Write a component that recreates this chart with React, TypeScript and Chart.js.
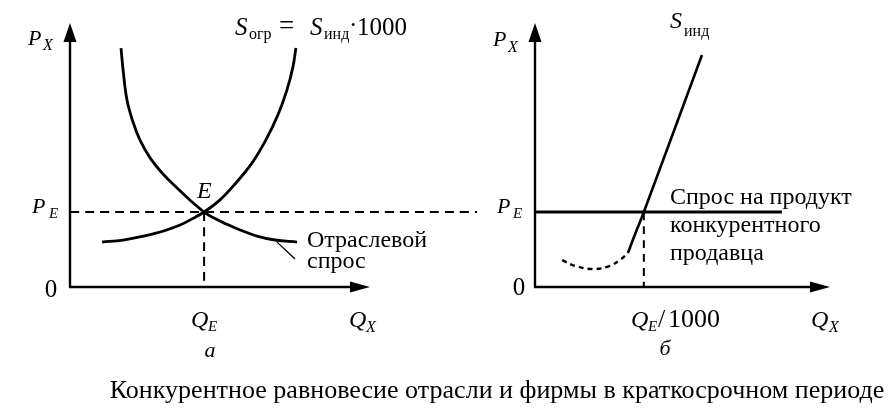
import React, { useEffect, useRef } from "react";
import { Chart, registerables } from "chart.js";

Chart.register(...registerables);

const FONT = "'Liberation Serif', 'Times New Roman', serif";

// ---------- Panel а: industry (values in axis units) ----------
const industryDemandQ = [1.7, 1.77, 1.9, 2.1, 2.33, 2.67, 3.1, 3.57, 4.03, 4.47, 4.8, 5.2, 5.67, 6.23, 6.83, 7.57];
const industryDemandP = [9.05, 8.22, 7.08, 6.25, 5.57, 4.89, 4.28, 3.75, 3.26, 2.84, 2.61, 2.39, 2.16, 1.93, 1.78, 1.7];
const industrySupplyQ = [1.07, 1.77, 2.9, 3.67, 4.07, 4.47, 5.0, 5.53, 6.07, 6.53, 6.93, 7.23, 7.43, 7.53];
const industrySupplyP = [1.7, 1.78, 2.05, 2.35, 2.58, 2.84, 3.3, 3.94, 4.7, 5.57, 6.52, 7.46, 8.33, 9.05];
const equilibriumQ = 4.47;
const equilibriumP = 2.84;
const priceLineEndQ = [13.57];
const leaderQ = [6.9, 7.5];
const leaderP = [1.7, 1.06];

// ---------- Panel б: firm ----------
const firmSupplySolidQ = [3.15, 3.42, 3.69, 5.66];
const firmSupplySolidP = [1.29, 2.08, 2.84, 8.79];
const firmSupplyDashedQ = [0.92, 1.36, 1.97, 2.54, 2.92, 3.15];
const firmSupplyDashedP = [1.02, 0.8, 0.68, 0.8, 1.06, 1.29];
const firmDemandQ = [0, 8.37];
const firmQ = 3.69;

const AXIS_END = 10;

const zip = (xs: number[], ys: number[]) => xs.map((x, i) => ({ x, y: ys[i] }));

type Seg = { t: string; x: number; y: number; size: number; italic?: boolean; align?: CanvasTextAlign };

function drawSegs(ctx: CanvasRenderingContext2D, segs: Seg[]) {
  for (const s of segs) {
    ctx.font = `${s.italic ? "italic " : ""}${s.size}px ${FONT}`;
    ctx.textAlign = s.align ?? "left";
    ctx.textBaseline = "alphabetic";
    ctx.fillStyle = "#000";
    ctx.fillText(s.t, s.x, s.y);
  }
}

function makeAxesPlugin(id: string, labels: Seg[], extra?: (ctx: CanvasRenderingContext2D) => void) {
  return {
    id,
    afterDatasetsDraw(chart: any) {
      const { ctx } = chart;
      const xs = chart.scales.x;
      const ys = chart.scales.y;
      const x0 = xs.getPixelForValue(0);
      const y0 = ys.getPixelForValue(0);
      const xe = xs.getPixelForValue(AXIS_END);
      const ye = ys.getPixelForValue(AXIS_END);
      ctx.save();
      ctx.strokeStyle = "#000";
      ctx.lineWidth = 2.4;
      ctx.beginPath();
      ctx.moveTo(x0 - 1, y0);
      ctx.lineTo(xe - 12, y0);
      ctx.moveTo(x0, y0);
      ctx.lineTo(x0, ye + 12);
      ctx.stroke();
      ctx.fillStyle = "#000";
      ctx.beginPath();
      ctx.moveTo(xe, y0);
      ctx.lineTo(xe - 20, y0 - 5.5);
      ctx.lineTo(xe - 20, y0 + 5.5);
      ctx.closePath();
      ctx.fill();
      ctx.beginPath();
      ctx.moveTo(x0, ye);
      ctx.lineTo(x0 - 6.5, ye + 19);
      ctx.lineTo(x0 + 6.5, ye + 19);
      ctx.closePath();
      ctx.fill();
      drawSegs(ctx, labels);
      if (extra) extra(ctx);
      ctx.restore();
    },
  };
}

const baseLine = {
  borderColor: "#000",
  pointRadius: 0,
  fill: false,
  clip: false as any,
  tension: 0.4,
};

const leftLabels: Seg[] = [
  { t: "P", x: 28, y: 45, size: 22, italic: true },
  { t: "X", x: 43, y: 50, size: 16, italic: true },
  { t: "S", x: 235, y: 35, size: 25, italic: true },
  { t: "огр", x: 249, y: 39, size: 16 },
  { t: "=", x: 279, y: 34, size: 27 },
  { t: "S", x: 310, y: 35, size: 25, italic: true },
  { t: "инд", x: 324, y: 39, size: 16 },
  { t: "·", x: 349, y: 33, size: 25 },
  { t: "1000", x: 357, y: 35, size: 25 },
  { t: "E", x: 197, y: 198, size: 24, italic: true },
  { t: "P", x: 32, y: 213, size: 22, italic: true },
  { t: "E", x: 49, y: 218, size: 15, italic: true },
  { t: "0", x: 51, y: 297, size: 25, align: "center" },
  { t: "Q", x: 191, y: 327, size: 24, italic: true },
  { t: "E", x: 208, y: 331, size: 15, italic: true },
  { t: "Q", x: 349, y: 327, size: 24, italic: true },
  { t: "X", x: 366, y: 332, size: 16, italic: true },
  { t: "а", x: 210, y: 357, size: 22, italic: true, align: "center" },
  { t: "Отраслевой", x: 307, y: 247, size: 24 },
  { t: "спрос", x: 307, y: 268, size: 24 },
];

const rightLabels: Seg[] = [
  { t: "P", x: 493, y: 46, size: 22, italic: true },
  { t: "X", x: 508, y: 52, size: 16, italic: true },
  { t: "S", x: 670, y: 28, size: 24, italic: true },
  { t: "инд", x: 684, y: 36, size: 16 },
  { t: "P", x: 497, y: 213, size: 22, italic: true },
  { t: "E", x: 513, y: 218, size: 15, italic: true },
  { t: "0", x: 519, y: 295, size: 25, align: "center" },
  { t: "Q", x: 631, y: 327, size: 24, italic: true },
  { t: "E", x: 648, y: 331, size: 15, italic: true },
  { t: "/", x: 658, y: 327, size: 26 },
  { t: "1000", x: 668, y: 327, size: 26 },
  { t: "Q", x: 811, y: 327, size: 24, italic: true },
  { t: "X", x: 829, y: 332, size: 16, italic: true },
  { t: "б", x: 665, y: 355, size: 22, italic: true, align: "center" },
  { t: "Спрос на продукт", x: 670, y: 204, size: 24 },
  { t: "конкурентного", x: 670, y: 232, size: 24 },
  { t: "продавца", x: 670, y: 260, size: 24 },
];

const CAPTION = "Конкурентное равновесие отрасли и фирмы в краткосрочном периоде";

function drawCaption(ctx: CanvasRenderingContext2D) {
  const target = 775;
  ctx.font = `26px ${FONT}`;
  const w = ctx.measureText(CAPTION).width;
  const size = (26 * target) / w;
  ctx.font = `${size}px ${FONT}`;
  ctx.textAlign = "center";
  ctx.textBaseline = "alphabetic";
  ctx.fillStyle = "#000";
  ctx.fillText(CAPTION, 497, 398);
}

export default function App() {
  const leftRef = useRef<HTMLCanvasElement>(null);
  const rightRef = useRef<HTMLCanvasElement>(null);

  useEffect(() => {
    document.body.style.margin = "0";
    const common = {
      responsive: false,
      animation: false as const,
      events: [] as any[],
      plugins: { legend: { display: false }, tooltip: { enabled: false }, title: { display: false } },
    };

    const left = new Chart(leftRef.current!, {
      type: "line",
      data: {
        datasets: [
          { ...baseLine, data: zip(industryDemandQ, industryDemandP), borderWidth: 2.8 },
          { ...baseLine, data: zip(industrySupplyQ, industrySupplyP), borderWidth: 2.8 },
          {
            ...baseLine,
            data: [
              { x: 0, y: equilibriumP },
              { x: priceLineEndQ[0], y: equilibriumP },
            ],
            borderWidth: 2,
            borderDash: [9, 6],
          },
          {
            ...baseLine,
            data: [
              { x: equilibriumQ, y: equilibriumP },
              { x: equilibriumQ, y: 0 },
            ],
            borderWidth: 2,
            borderDash: [9, 6],
          },
          { ...baseLine, data: zip(leaderQ, leaderP), borderWidth: 1.3 },
        ],
      },
      options: {
        ...common,
        layout: { padding: { left: 70, right: 406, top: 23, bottom: 124 } },
        scales: {
          x: { type: "linear", min: 0, max: 14, display: false },
          y: { type: "linear", min: 0, max: 10, display: false },
        },
      } as any,
      plugins: [makeAxesPlugin("leftAxes", leftLabels)],
    });

    const right = new Chart(rightRef.current!, {
      type: "line",
      data: {
        datasets: [
          {
            ...baseLine,
            data: firmDemandQ.map((q) => ({ x: q, y: equilibriumP })),
            borderWidth: 3,
          },
          {
            ...baseLine,
            data: [
              { x: firmQ, y: equilibriumP },
              { x: firmQ, y: 0 },
            ],
            borderWidth: 2,
            borderDash: [8, 6],
          },
          { ...baseLine, data: zip(firmSupplySolidQ, firmSupplySolidP), borderWidth: 2.6 },
          {
            ...baseLine,
            data: zip(firmSupplyDashedQ, firmSupplyDashedP),
            borderWidth: 2.4,
            borderDash: [5, 4],
          },
        ],
      },
      options: {
        ...common,
        layout: { padding: { left: 535, right: 66, top: 23, bottom: 124 } },
        scales: {
          x: { type: "linear", min: 0, max: 10, display: false },
          y: { type: "linear", min: 0, max: 10, display: false },
        },
      } as any,
      plugins: [makeAxesPlugin("rightAxes", rightLabels, drawCaption)],
    });

    return () => {
      left.destroy();
      right.destroy();
    };
  }, []);

  const cs: React.CSSProperties = { position: "absolute", left: 0, top: 0 };
  return (
    <div style={{ position: "absolute", left: 0, top: 0, width: 896, height: 411, background: "#fff" }}>
      <canvas ref={leftRef} width={896} height={411} style={cs} />
      <canvas ref={rightRef} width={896} height={411} style={cs} />
    </div>
  );
}
